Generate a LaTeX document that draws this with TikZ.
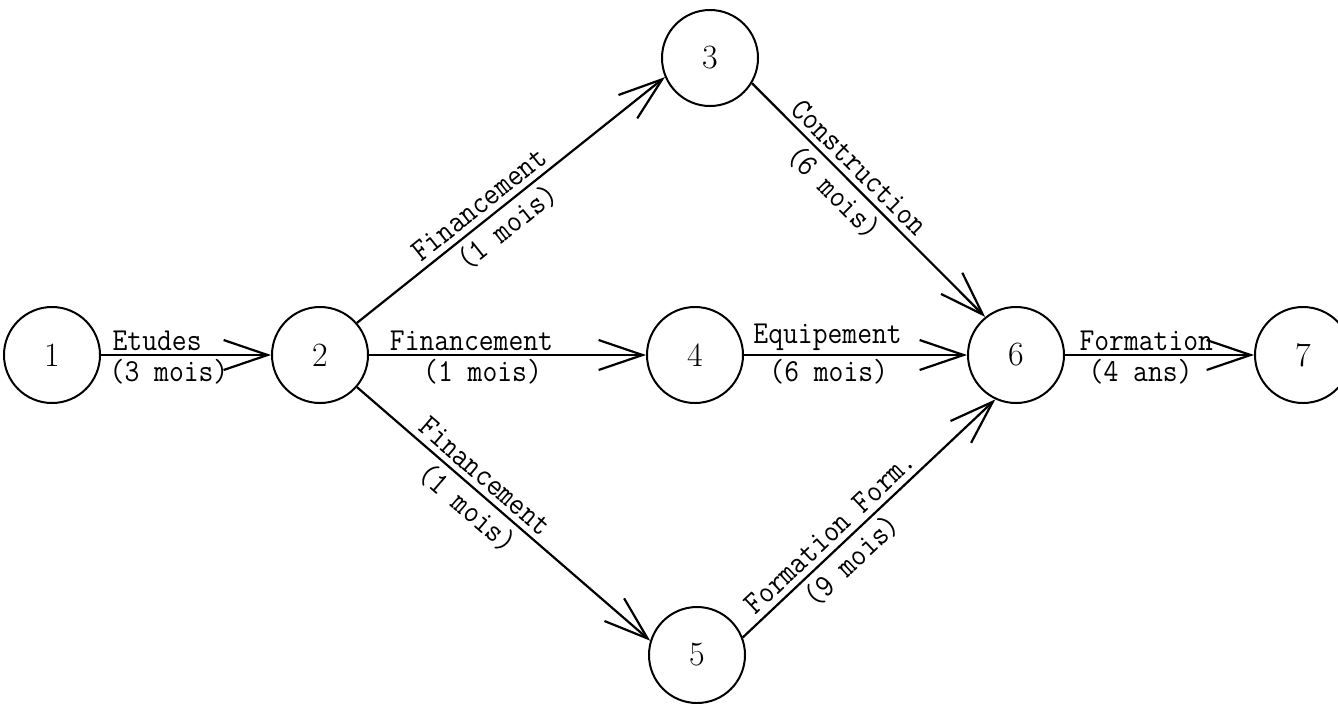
\documentclass[tikz,border=0pt]{standalone}
\usetikzlibrary{arrows.meta}
\newcommand\narrowtt[1]{\scalebox{0.9}[1]{#1}}
\begin{document}
\begin{tikzpicture}[x=0.5pt,y=-0.5pt,
  state/.style={circle,draw,line width=1pt,minimum size=48pt,inner sep=0pt,font=\fontsize{17}{20}\selectfont},
  act/.style={line width=1.1pt,-{Straight Barb[length=22pt,width=15pt,line width=1.1pt]}},
  lab/.style={font=\ttfamily\fontsize{16}{18}\selectfont,inner sep=1.5pt},
  slab/.style={lab,sloped,inner sep=2.8pt}]
\useasboundingbox (0,0) rectangle (1338,703);
\node[state] (n1) at (52,355) {1};
\node[state] (n2) at (320,355) {2};
\node[state] (n3) at (710,58) {3};
\node[state] (n4) at (695,355) {4};
\node[state] (n5) at (697,655) {5};
\node[state] (n6) at (1016,355) {6};
\node[state] (n7) at (1303,355) {7};

\draw[act] (n1) -- (n2)
  node[lab,pos=0.33,above] {\narrowtt{Etudes}}
  node[lab,pos=0.40,below] {\narrowtt{(3 mois)}};
\draw[act] (n2) -- (n4)
  node[lab,pos=0.37,above] {\narrowtt{Financement}}
  node[lab,pos=0.41,below] {\narrowtt{(1 mois)}};
\draw[act] (n4) -- (n6)
  node[lab,pos=0.375,above] {\narrowtt{Equipement}}
  node[lab,pos=0.38,below] {\narrowtt{(6 mois)}};
\draw[act] (n6) -- (n7)
  node[lab,pos=0.43,above] {\narrowtt{Formation}}
  node[lab,pos=0.40,below] {\narrowtt{(4 ans)}};
\draw[act] (n2.41) -- (n3.203)
  node[slab,pos=0.43,above] {\narrowtt{Financement}}
  node[slab,pos=0.45,below] {\narrowtt{(1 mois)}};
\draw[act] (n3.-31) -- (n6.129)
  node[slab,pos=0.41,above] {\narrowtt{Construction}}
  node[slab,pos=0.41,below] {\narrowtt{(6 mois)}};
\draw[act] (n2.-41) -- (n5.163)
  node[slab,pos=0.40,above] {\narrowtt{Financement}}
  node[slab,pos=0.42,below] {\narrowtt{(1 mois)}};
\draw[act] (n5.21) -- (n6.245)
  node[slab,pos=0.39,above] {\narrowtt{Formation Form.}}
  node[slab,pos=0.38,below] {\narrowtt{(9 mois)}};
\end{tikzpicture}
\end{document}
